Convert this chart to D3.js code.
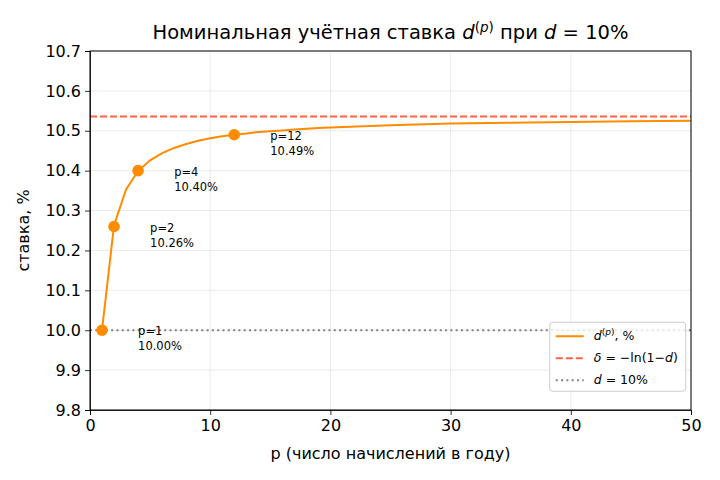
<!DOCTYPE html>
<html lang="ru">
<head>
<meta charset="UTF-8">
<title>Номинальная учётная ставка</title>
<script src="https://cdnjs.cloudflare.com/ajax/libs/d3/7.8.5/d3.min.js"></script>
<style>
  body { margin: 0; background: #fff; }
  text { font-family: "DejaVu Sans", sans-serif; fill: #000; }
  .grid line { stroke: #b0b0b0; stroke-opacity: 0.3; stroke-width: 0.8px; }
  .axis text { font-size: 16px; }
  .axis path, .axis line { stroke: #000; stroke-width: 0.8px; }
  .note { font-size: 11.5px; }
  .leg { font-size: 12.5px; }
  .it { font-style: italic; }
</style>
</head>
<body>
<div id="chart"></div>
<script>
// ставка d^(p) (%) по числу начислений p
const pValues = [1, 2, 3, 4, 5, 6, 7, 8, 9, 10, 11, 12, 13, 14, 15, 16, 17, 18, 19, 20, 25, 30, 35, 40, 45, 50];
const rateValues = [10.000, 10.263, 10.353, 10.399, 10.426, 10.444, 10.457, 10.467, 10.475, 10.481,
                    10.486, 10.490, 10.493, 10.497, 10.499, 10.501, 10.503, 10.505, 10.507, 10.508,
                    10.514, 10.518, 10.520, 10.522, 10.524, 10.525];
const markP = [1, 2, 4, 12];
const markRate = [10.00, 10.26, 10.40, 10.49];
const deltaValue = 10.536;   // -ln(1-d)
const dValue = 10.0;
const xTicks = [0, 10, 20, 30, 40, 50];
const yTicks = [9.8, 9.9, 10.0, 10.1, 10.2, 10.3, 10.4, 10.5, 10.6, 10.7];

const width = 720, height = 480;
const margin = {top: 51, right: 29, bottom: 70, left: 90};
const w = width - margin.left - margin.right;
const h = height - margin.top - margin.bottom;

const svg = d3.select("#chart").append("svg")
    .attr("width", width)
    .attr("height", height);

const g = svg.append("g")
    .attr("transform", "translate(" + margin.left + "," + margin.top + ")");

const x = d3.scaleLinear().domain([0, 50]).range([0, w]);
const y = d3.scaleLinear().domain([9.8, 10.7]).range([h, 0]);

// сетка
g.append("g").attr("class", "grid")
    .selectAll("line").data(xTicks).enter().append("line")
    .attr("x1", d => x(d)).attr("x2", d => x(d))
    .attr("y1", 0).attr("y2", h);
g.append("g").attr("class", "grid")
    .selectAll("line").data(yTicks).enter().append("line")
    .attr("y1", d => y(d)).attr("y2", d => y(d))
    .attr("x1", 0).attr("x2", w);

// горизонтальные уровни
g.append("line")
    .attr("x1", 0).attr("x2", w)
    .attr("y1", y(deltaValue)).attr("y2", y(deltaValue))
    .attr("stroke", "#ff6347").attr("stroke-width", 2)
    .attr("stroke-dasharray", "7,3");
g.append("line")
    .attr("x1", 0).attr("x2", w)
    .attr("y1", y(dValue)).attr("y2", y(dValue))
    .attr("stroke", "#808080").attr("stroke-width", 2)
    .attr("stroke-dasharray", "2,3.3");

// кривая
const line = d3.line()
    .x((d, i) => x(pValues[i]))
    .y(d => y(d));
g.append("path")
    .datum(rateValues)
    .attr("fill", "none")
    .attr("stroke", "#ff8c00")
    .attr("stroke-width", 2)
    .attr("d", line);

// точки и подписи
g.selectAll(".mark").data(markP).enter().append("circle")
    .attr("cx", d => x(d))
    .attr("cy", (d, i) => y(markRate[i]))
    .attr("r", 5.8)
    .attr("fill", "#ff8c00");

const notes = g.selectAll(".note").data(markP).enter().append("text")
    .attr("class", "note")
    .attr("x", d => x(d + 3))
    .attr("y", (d, i) => y(markRate[i]) + 5);
notes.append("tspan").text(d => "p=" + d);
notes.append("tspan")
    .attr("x", d => x(d + 3))
    .attr("dy", 15)
    .text((d, i) => markRate[i].toFixed(2) + "%");

// оси
g.append("g").attr("class", "axis")
    .attr("transform", "translate(0," + h + ")")
    .call(d3.axisBottom(x).tickValues(xTicks).tickSize(5).tickPadding(5));
g.append("g").attr("class", "axis")
    .call(d3.axisLeft(y).tickValues(yTicks).tickSize(5).tickPadding(4).tickFormat(d3.format(".1f")));
g.append("rect")
    .attr("width", w).attr("height", h)
    .attr("fill", "none").attr("stroke", "#000").attr("stroke-width", 1);

// подписи осей
svg.append("text")
    .attr("x", margin.left + w / 2).attr("y", 459)
    .attr("text-anchor", "middle").style("font-size", "16px")
    .text("p (число начислений в году)");
svg.append("text")
    .attr("transform", "translate(29," + (margin.top + h / 2) + ") rotate(-90)")
    .attr("text-anchor", "middle").style("font-size", "16px")
    .text("ставка, %");

// заголовок
const title = svg.append("text")
    .attr("x", margin.left + w / 2).attr("y", 39)
    .attr("text-anchor", "middle").style("font-size", "19.5px");
title.append("tspan").text("Номинальная учётная ставка ");
title.append("tspan").attr("class", "it").text("d");
title.append("tspan").attr("dy", -7).style("font-size", "13.5px").text("(");
title.append("tspan").attr("class", "it").style("font-size", "13.5px").text("p");
title.append("tspan").style("font-size", "13.5px").text(")");
title.append("tspan").attr("dy", 7).text(" при ");
title.append("tspan").attr("class", "it").text("d");
title.append("tspan").text(" = 10%");

// легенда
const leg = g.append("g").attr("transform", "translate(" + (x(38.25)) + "," + (y(10.02)) + ")");
leg.append("rect")
    .attr("width", 136).attr("height", 69).attr("rx", 3)
    .attr("fill", "#fff").attr("fill-opacity", 0.8)
    .attr("stroke", "#ccc");
const legStyles = [
    {color: "#ff8c00", dash: null},
    {color: "#ff6347", dash: "7,3"},
    {color: "#808080", dash: "2,3.3"}
];
legStyles.forEach((s, i) => {
    const yy = 14 + i * 22;
    leg.append("line")
        .attr("x1", 6).attr("x2", 34).attr("y1", yy).attr("y2", yy)
        .attr("stroke", s.color).attr("stroke-width", 2)
        .attr("stroke-dasharray", s.dash);
});
const l1 = leg.append("text").attr("class", "leg").attr("x", 44).attr("y", 18);
l1.append("tspan").attr("class", "it").text("d");
l1.append("tspan").attr("dy", -5).style("font-size", "9px").text("(");
l1.append("tspan").attr("class", "it").style("font-size", "9px").text("p");
l1.append("tspan").style("font-size", "9px").text(")");
l1.append("tspan").attr("dy", 5).text(", %");
const l2 = leg.append("text").attr("class", "leg").attr("x", 44).attr("y", 40);
l2.append("tspan").attr("class", "it").text("δ");
l2.append("tspan").text(" = −ln(1−");
l2.append("tspan").attr("class", "it").text("d");
l2.append("tspan").text(")");
const l3 = leg.append("text").attr("class", "leg").attr("x", 44).attr("y", 62);
l3.append("tspan").attr("class", "it").text("d");
l3.append("tspan").text(" = 10%");
</script>
</body>
</html>
